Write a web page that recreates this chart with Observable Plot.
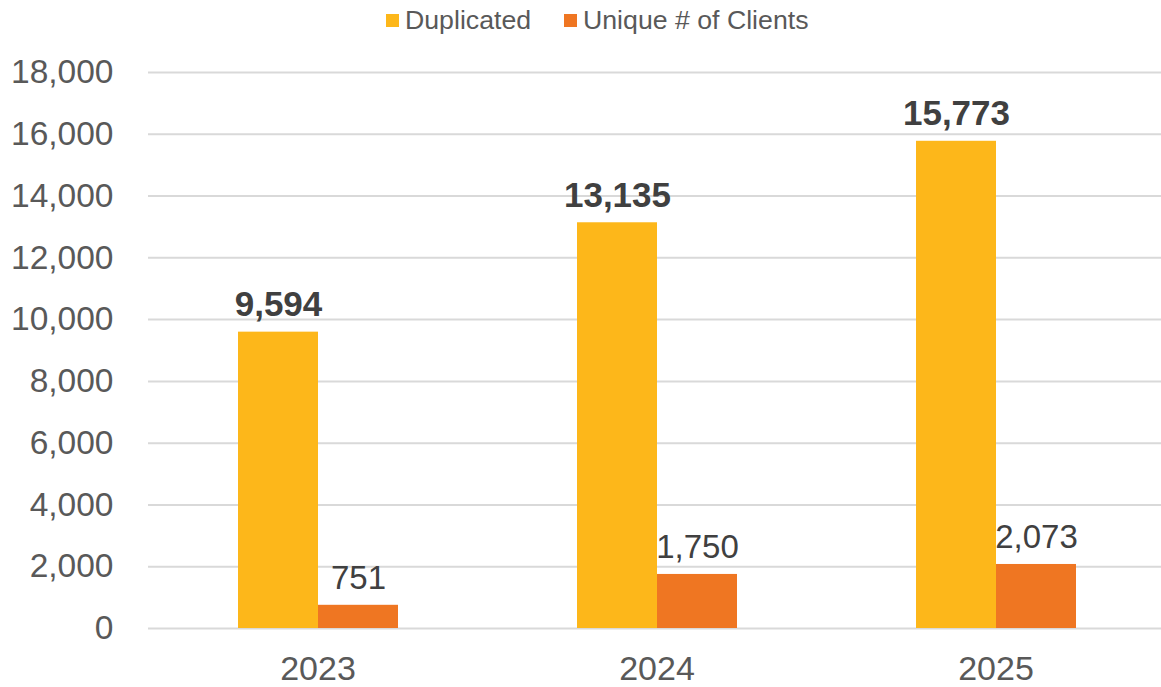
<!DOCTYPE html>
<html><head><meta charset="utf-8">
<script src="https://cdn.jsdelivr.net/npm/d3@7"></script>
<script src="https://cdn.jsdelivr.net/npm/@observablehq/plot@0.6"></script>
<style>
html,body{margin:0;padding:0;overflow:hidden;background:#fff;}
body{font-family:"Liberation Sans",Arial,sans-serif;width:1161px;height:687px;}
#legend{height:40px;position:relative;font-size:26.7px;color:#595959;}
.item{position:absolute;top:4px;display:flex;align-items:center;height:32px;}
.sw{width:13px;height:13px;margin-right:6px;}
#chart{width:1161px;overflow:hidden;}
#chart svg{display:block;max-width:none !important;}
</style></head><body>
<div id="legend"></div>
<div id="chart"></div>
<script>
const years = ["2023", "2024", "2025"];
const seriesNames = ["Duplicated", "Unique # of Clients"];
const duplicated = [9594, 13135, 15773];
const unique = [751, 1750, 2073];
const colors = ["#FDB71A", "#EF7622"];
const yTicks = [0, 2000, 4000, 6000, 8000, 10000, 12000, 14000, 16000, 18000];

const data = years.flatMap((yr, i) => [
  {year: yr, series: seriesNames[0], value: duplicated[i]},
  {year: yr, series: seriesNames[1], value: unique[i]}
]);

// legend
const legend = document.getElementById("legend");
const legendX = [386, 564];
seriesNames.forEach((s, i) => {
  const it = document.createElement("div");
  it.className = "item";
  it.style.left = legendX[i] + "px";
  it.innerHTML = `<span class="sw" style="background:${colors[i]}"></span><span>${s}</span>`;
  legend.appendChild(it);
});

const fmt = d3.format(",");
const chart = Plot.plot({
  width: 1166,
  height: 647,
  marginLeft: 147,
  marginRight: 0,
  marginTop: 32,
  marginBottom: 59,
  style: {fontFamily: "Liberation Sans, Arial, sans-serif", background: "#fff", maxWidth: "none"},
  fx: {domain: years, padding: 0, label: null, axis: null},
  x: {domain: seriesNames, paddingInner: 0, paddingOuter: 1.1, axis: null},
  y: {domain: [0, 18000], label: null},
  color: {domain: seriesNames, range: colors},
  marks: [
    Plot.gridY(yTicks, {stroke: "#d9d9d9", strokeOpacity: 1, strokeWidth: 2}),
    Plot.axisY(yTicks, {tickSize: 0, tickPadding: 35, tickFormat: fmt, fontSize: 33.5, fill: "#595959", label: null}),
    Plot.axisFx({anchor: "bottom", tickSize: 0, tickPadding: 27, fontSize: 34, fill: "#595959", label: null}),
    Plot.barY(data, {fx: "year", x: "series", y: "value", fill: "series"}),
    Plot.text(data.filter(d => d.series === seriesNames[0]), {
      fx: "year", x: "series", y: "value", text: d => fmt(d.value),
      lineAnchor: "bottom", dy: -16, fontSize: 35, fontWeight: "bold", fill: "#404040"
    }),
    Plot.text(data.filter(d => d.series === seriesNames[1]), {
      fx: "year", x: "series", y: "value", text: d => fmt(d.value),
      lineAnchor: "bottom", dy: -16, fontSize: 33, fill: "#404040"
    })
  ]
});
document.getElementById("chart").appendChild(chart);
</script>
</body></html>
